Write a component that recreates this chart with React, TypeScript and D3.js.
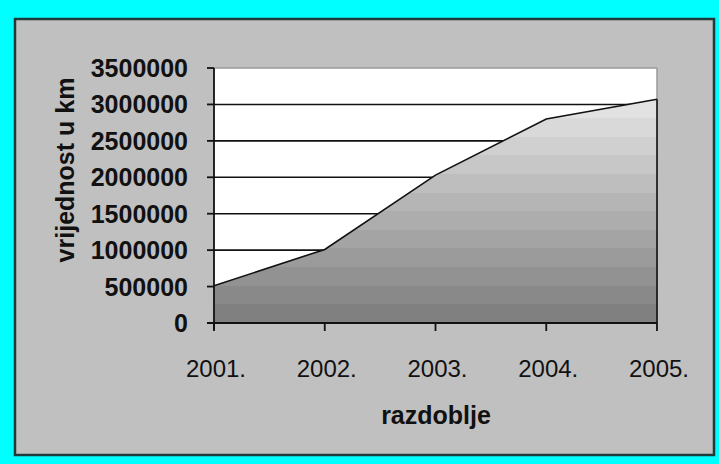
import React from "react";
import * as d3 from "d3";

// values
const years = ["2001.", "2002.", "2003.", "2004.", "2005."];
const values = [510000, 1010000, 2030000, 2800000, 3070000];
const yTicks = [0, 500000, 1000000, 1500000, 2000000, 2500000, 3000000, 3500000];

const W = 719;
const H = 464;
const plot = { left: 214, right: 657, top: 68, bottom: 323 };
const font = "Arial, 'Liberation Sans', sans-serif";

export default function App() {
  const x = d3.scalePoint<string>().domain(years).range([plot.left, plot.right]);
  const y = d3.scaleLinear().domain([0, 3500000]).range([plot.bottom, plot.top]);

  const pts = years.map((yr, i) => ({ yr, v: values[i] }));
  const area = d3
    .area<{ yr: string; v: number }>()
    .x((d) => x(d.yr) as number)
    .y0(y(0))
    .y1((d) => y(d.v));
  const line = d3
    .line<{ yr: string; v: number }>()
    .x((d) => x(d.yr) as number)
    .y((d) => y(d.v));

  // banded grey fill, dark at the bottom, light at the top
  const bands = 12;
  const shade = d3.interpolateRgb("#808080", "#e2e2e2");
  const stops: React.ReactNode[] = [];
  for (let i = 0; i < bands; i++) {
    const c = shade(i / (bands - 1));
    stops.push(<stop key={"a" + i} offset={i / bands} stopColor={c} />);
    stops.push(<stop key={"b" + i} offset={(i + 1) / bands} stopColor={c} />);
  }
  const topV = d3.max(values) as number;
  const last = pts[pts.length - 1];

  return (
    <svg width={W} height={H} style={{ display: "block", position: "absolute", left: 0, top: 0 }}>
      <defs>
        <linearGradient id="fill" gradientUnits="userSpaceOnUse" x1={0} x2={0} y1={y(0)} y2={y(topV)}>
          {stops}
        </linearGradient>
      </defs>
      <rect x={0} y={0} width={W} height={H} fill="#00ffff" />
      <rect x={15} y={19} width={699} height={436} fill="#c0c0c0" stroke="#1f3a3a" strokeWidth={2.5} />

      {/* plot background */}
      <rect x={plot.left} y={plot.top} width={plot.right - plot.left} height={plot.bottom - plot.top} fill="#ffffff" />
      <line x1={plot.left} x2={plot.right} y1={plot.top} y2={plot.top} stroke="#9a9a9a" strokeWidth={1.5} />
      <line x1={plot.right} x2={plot.right} y1={plot.top} y2={plot.bottom} stroke="#9a9a9a" strokeWidth={1.5} />

      {/* gridlines */}
      {yTicks.slice(1, -1).map((t) => (
        <line key={t} x1={plot.left} x2={plot.right} y1={y(t)} y2={y(t)} stroke="#111" strokeWidth={1.6} />
      ))}

      <path d={area(pts) || ""} fill="url(#fill)" />
      <path d={line(pts) || ""} fill="none" stroke="#111" strokeWidth={1.6} />
      <line x1={x(last.yr)} x2={x(last.yr)} y1={y(last.v)} y2={y(0)} stroke="#111" strokeWidth={1.6} />

      {/* axes */}
      <line x1={plot.left} x2={plot.left} y1={plot.top} y2={plot.bottom + 7} stroke="#111" strokeWidth={1.8} />
      <line x1={plot.left - 7} x2={plot.right} y1={plot.bottom} y2={plot.bottom} stroke="#111" strokeWidth={1.8} />
      {yTicks.map((t) => (
        <g key={t}>
          <line x1={plot.left - 7} x2={plot.left} y1={y(t)} y2={y(t)} stroke="#111" strokeWidth={1.8} />
          <text x={188} y={y(t) + 9} textAnchor="end" fontFamily={font} fontWeight="bold" fontSize={25} fill="#111">
            {t}
          </text>
        </g>
      ))}
      {years.map((yr) => (
        <g key={yr}>
          <line x1={x(yr)} x2={x(yr)} y1={plot.bottom} y2={plot.bottom + 8} stroke="#111" strokeWidth={1.8} />
          <text x={(x(yr) as number) + 2} y={377} textAnchor="middle" fontFamily={font} fontSize={24} fill="#111">
            {yr}
          </text>
        </g>
      ))}

      <text x={436} y={424} textAnchor="middle" fontFamily={font} fontWeight="bold" fontSize={25} fill="#111">
        razdoblje
      </text>
      <text
        transform="translate(74,170) rotate(-90)"
        textAnchor="middle"
        fontFamily={font}
        fontWeight="bold"
        fontSize={25}
        fill="#111"
      >
        vrijednost u km
      </text>
    </svg>
  );
}
